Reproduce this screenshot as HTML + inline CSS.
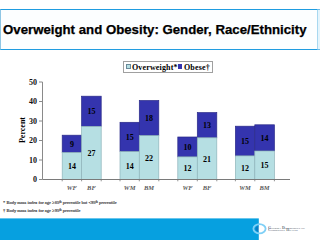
<!DOCTYPE html>
<html><head><meta charset="utf-8">
<style>
html,body{margin:0;padding:0;}
body{width:320px;height:240px;position:relative;overflow:hidden;background:#fff;font-family:"Liberation Sans",sans-serif;}
.a{position:absolute;}
#titlebox{left:0;top:9px;width:316px;height:39px;border:1px solid #1f9ce0;border-left-color:#8fc6e4;border-right-color:#a8d8f0;background:#fcfeff;}
#title{left:3px;top:23px;font-size:12.5px;font-weight:bold;color:#000;white-space:nowrap;line-height:15px;transform:scaleX(1.058);transform-origin:0 0;-webkit-text-stroke:0.25px #000;}
#legend{left:123px;top:61px;width:88px;height:10px;border:1px solid #a0a0a0;}
.lt{font-family:"Liberation Serif",serif;font-weight:bold;font-size:8px;white-space:nowrap;line-height:10px;letter-spacing:0.15px;}
.ylab{font-family:"Liberation Serif",serif;font-weight:bold;font-size:8px;line-height:10px;text-align:right;width:12px;color:#111;}
.num{position:absolute;font-family:"Liberation Serif",serif;font-weight:bold;font-size:8px;line-height:8px;text-align:center;color:#000;transform:translateY(-2.9px);}
.xl{position:absolute;font-family:"Liberation Serif",serif;font-style:italic;font-weight:bold;font-size:6.5px;line-height:8px;color:#5a5a5a;text-align:center;}
.fn{position:absolute;font-family:"Liberation Serif",serif;font-size:4.5px;line-height:6px;white-space:nowrap;color:#333;-webkit-text-stroke:0.15px #444;}
.fn sup{font-size:3px;vertical-align:1.5px;line-height:0;}
</style></head><body>
<div id="titlebox" class="a"></div>
<div class="a" style="left:318px;top:9px;width:2px;height:1px;background:#6cbcea;"></div><div class="a" style="left:318px;top:49px;width:2px;height:1px;background:#6cbcea;"></div><div class="a" style="left:318px;top:10px;width:2px;height:39px;background:#e4f4fc;"></div>
<div id="title" class="a">Overweight and Obesity: Gender, Race/Ethnicity</div>

<div id="legend" class="a"></div>
<div class="a" style="left:126px;top:64px;width:3px;height:3px;border:1px solid #6a8a9a;background:#b6dfe3;"></div>
<div class="a lt" style="left:132px;top:62.7px;">Overweight*</div>
<div class="a" style="left:178px;top:64px;width:4px;height:5px;background:#3434ae;"></div>
<div class="a lt" style="left:184px;top:62.7px;">Obese&#8224;</div>

<svg class="a" style="left:0;top:0" width="320" height="240" viewBox="0 0 320 240"><rect x="62.20" y="135.20" width="19.40" height="17.30" fill="#3434ae" stroke="#2a2a88" stroke-width="0.7"/><rect x="62.20" y="152.50" width="19.40" height="27.00" fill="#b6dfe3" stroke="#8fb4ba" stroke-width="0.7"/><rect x="81.60" y="96.20" width="19.60" height="30.20" fill="#3434ae" stroke="#2a2a88" stroke-width="0.7"/><rect x="81.60" y="126.40" width="19.60" height="53.10" fill="#b6dfe3" stroke="#8fb4ba" stroke-width="0.7"/><rect x="120.00" y="122.30" width="19.30" height="29.30" fill="#3434ae" stroke="#2a2a88" stroke-width="0.7"/><rect x="120.00" y="151.60" width="19.30" height="27.90" fill="#b6dfe3" stroke="#8fb4ba" stroke-width="0.7"/><rect x="139.30" y="100.50" width="19.50" height="35.10" fill="#3434ae" stroke="#2a2a88" stroke-width="0.7"/><rect x="139.30" y="135.60" width="19.50" height="43.90" fill="#b6dfe3" stroke="#8fb4ba" stroke-width="0.7"/><rect x="177.80" y="137.00" width="19.50" height="19.90" fill="#3434ae" stroke="#2a2a88" stroke-width="0.7"/><rect x="177.80" y="156.90" width="19.50" height="22.60" fill="#b6dfe3" stroke="#8fb4ba" stroke-width="0.7"/><rect x="197.30" y="112.60" width="19.50" height="25.20" fill="#3434ae" stroke="#2a2a88" stroke-width="0.7"/><rect x="197.30" y="137.80" width="19.50" height="41.70" fill="#b6dfe3" stroke="#8fb4ba" stroke-width="0.7"/><rect x="235.40" y="126.20" width="19.40" height="29.70" fill="#3434ae" stroke="#2a2a88" stroke-width="0.7"/><rect x="235.40" y="155.90" width="19.40" height="23.60" fill="#b6dfe3" stroke="#8fb4ba" stroke-width="0.7"/><rect x="254.80" y="124.80" width="19.60" height="26.20" fill="#3434ae" stroke="#2a2a88" stroke-width="0.7"/><rect x="254.80" y="151.00" width="19.60" height="28.50" fill="#b6dfe3" stroke="#8fb4ba" stroke-width="0.7"/><line x1="42.5" y1="82" x2="42.5" y2="179.5" stroke="#8a8a8a" stroke-width="1"/><line x1="42.5" y1="179.5" x2="290" y2="179.5" stroke="#7a7a7a" stroke-width="1"/><line x1="39" y1="82.00" x2="42.5" y2="82.00" stroke="#8a8a8a" stroke-width="1"/><line x1="39" y1="101.50" x2="42.5" y2="101.50" stroke="#8a8a8a" stroke-width="1"/><line x1="39" y1="121.00" x2="42.5" y2="121.00" stroke="#8a8a8a" stroke-width="1"/><line x1="39" y1="140.50" x2="42.5" y2="140.50" stroke="#8a8a8a" stroke-width="1"/><line x1="39" y1="160.00" x2="42.5" y2="160.00" stroke="#8a8a8a" stroke-width="1"/><line x1="39" y1="179.50" x2="42.5" y2="179.50" stroke="#8a8a8a" stroke-width="1"/><line x1="62.2" y1="179.5" x2="62.2" y2="181.3" stroke="#777" stroke-width="0.8"/><line x1="81.6" y1="179.5" x2="81.6" y2="181.3" stroke="#777" stroke-width="0.8"/><line x1="101.2" y1="179.5" x2="101.2" y2="181.3" stroke="#777" stroke-width="0.8"/><line x1="120.0" y1="179.5" x2="120.0" y2="181.3" stroke="#777" stroke-width="0.8"/><line x1="139.3" y1="179.5" x2="139.3" y2="181.3" stroke="#777" stroke-width="0.8"/><line x1="158.8" y1="179.5" x2="158.8" y2="181.3" stroke="#777" stroke-width="0.8"/><line x1="177.8" y1="179.5" x2="177.8" y2="181.3" stroke="#777" stroke-width="0.8"/><line x1="197.3" y1="179.5" x2="197.3" y2="181.3" stroke="#777" stroke-width="0.8"/><line x1="216.8" y1="179.5" x2="216.8" y2="181.3" stroke="#777" stroke-width="0.8"/><line x1="235.4" y1="179.5" x2="235.4" y2="181.3" stroke="#777" stroke-width="0.8"/><line x1="254.8" y1="179.5" x2="254.8" y2="181.3" stroke="#777" stroke-width="0.8"/><line x1="274.4" y1="179.5" x2="274.4" y2="181.3" stroke="#777" stroke-width="0.8"/></svg>
<div class="a ylab" style="left:25px;top:77.60px;">50</div>
<div class="a ylab" style="left:25px;top:97.10px;">40</div>
<div class="a ylab" style="left:25px;top:116.60px;">30</div>
<div class="a ylab" style="left:25px;top:136.10px;">20</div>
<div class="a ylab" style="left:25px;top:155.60px;">10</div>
<div class="a ylab" style="left:25px;top:175.10px;">0</div>

<div class="a" style="left:8px;top:125px;width:30px;height:10px;transform:rotate(-90deg);transform-origin:50% 50%;font-family:'Liberation Serif',serif;font-weight:bold;font-size:8px;line-height:10px;text-align:center;">Percent</div>

<div class="num" style="left:62.20px;top:143.85px;width:19.40px;">9</div>
<div class="num" style="left:62.20px;top:166.00px;width:19.40px;">14</div>
<div class="xl" style="left:62.20px;top:184px;width:19.40px;">WF</div>
<div class="num" style="left:81.60px;top:111.30px;width:19.60px;">15</div>
<div class="num" style="left:81.60px;top:152.95px;width:19.60px;">27</div>
<div class="xl" style="left:81.60px;top:184px;width:19.60px;">BF</div>
<div class="num" style="left:120.00px;top:136.95px;width:19.30px;">15</div>
<div class="num" style="left:120.00px;top:165.55px;width:19.30px;">14</div>
<div class="xl" style="left:120.00px;top:184px;width:19.30px;">WM</div>
<div class="num" style="left:139.30px;top:118.05px;width:19.50px;">18</div>
<div class="num" style="left:139.30px;top:157.55px;width:19.50px;">22</div>
<div class="xl" style="left:139.30px;top:184px;width:19.50px;">BM</div>
<div class="num" style="left:177.80px;top:146.95px;width:19.50px;">10</div>
<div class="num" style="left:177.80px;top:168.20px;width:19.50px;">12</div>
<div class="xl" style="left:177.80px;top:184px;width:19.50px;">WF</div>
<div class="num" style="left:197.30px;top:125.20px;width:19.50px;">13</div>
<div class="num" style="left:197.30px;top:158.65px;width:19.50px;">21</div>
<div class="xl" style="left:197.30px;top:184px;width:19.50px;">BF</div>
<div class="num" style="left:235.40px;top:141.05px;width:19.40px;">15</div>
<div class="num" style="left:235.40px;top:167.70px;width:19.40px;">12</div>
<div class="xl" style="left:235.40px;top:184px;width:19.40px;">WM</div>
<div class="num" style="left:254.80px;top:137.90px;width:19.60px;">14</div>
<div class="num" style="left:254.80px;top:165.25px;width:19.60px;">15</div>
<div class="xl" style="left:254.80px;top:184px;width:19.60px;">BM</div>

<div class="fn" style="left:3px;top:200px;">* Body mass index for age &#8805;85<sup>th</sup> percentile but &lt;95<sup>th</sup> percentile</div>
<div class="fn" style="left:3px;top:208.2px;">&#8224; Body mass index for age &#8805;95<sup>th</sup> percentile</div>

<svg class="a" style="left:0;top:0" width="320" height="240"><rect x="0" y="218.4" width="258.8" height="22" fill="#06a0e0"/></svg>
<svg class="a" style="left:250px;top:222px;" width="20" height="14" viewBox="0 0 20 14">
<ellipse cx="9.5" cy="6.8" rx="6.1" ry="4.6" fill="none" stroke="#80d0f6" stroke-width="1.8"/>
<path d="M5.4 6.8 A3.6 3.2 0 0 1 8.75 3.9 L8.75 9.7 A3.6 3.2 0 0 1 5.4 6.8 Z" fill="#0a7cc4"/>
<path d="M8.75 4.2 L11.5 5.2 L13 7 L10.5 9.6 L8.75 9.6 Z" fill="#ffffff"/>
</svg>
<div class="a" style="left:268px;top:226.6px;font-size:3.3px;line-height:2.8px;transform:scaleX(1.22);transform-origin:0 0;color:#6a7480;font-family:'Liberation Serif',serif;font-weight:bold;font-variant:small-caps;white-space:nowrap;">Georgia Department of<br>Community Health</div>
</body></html>
